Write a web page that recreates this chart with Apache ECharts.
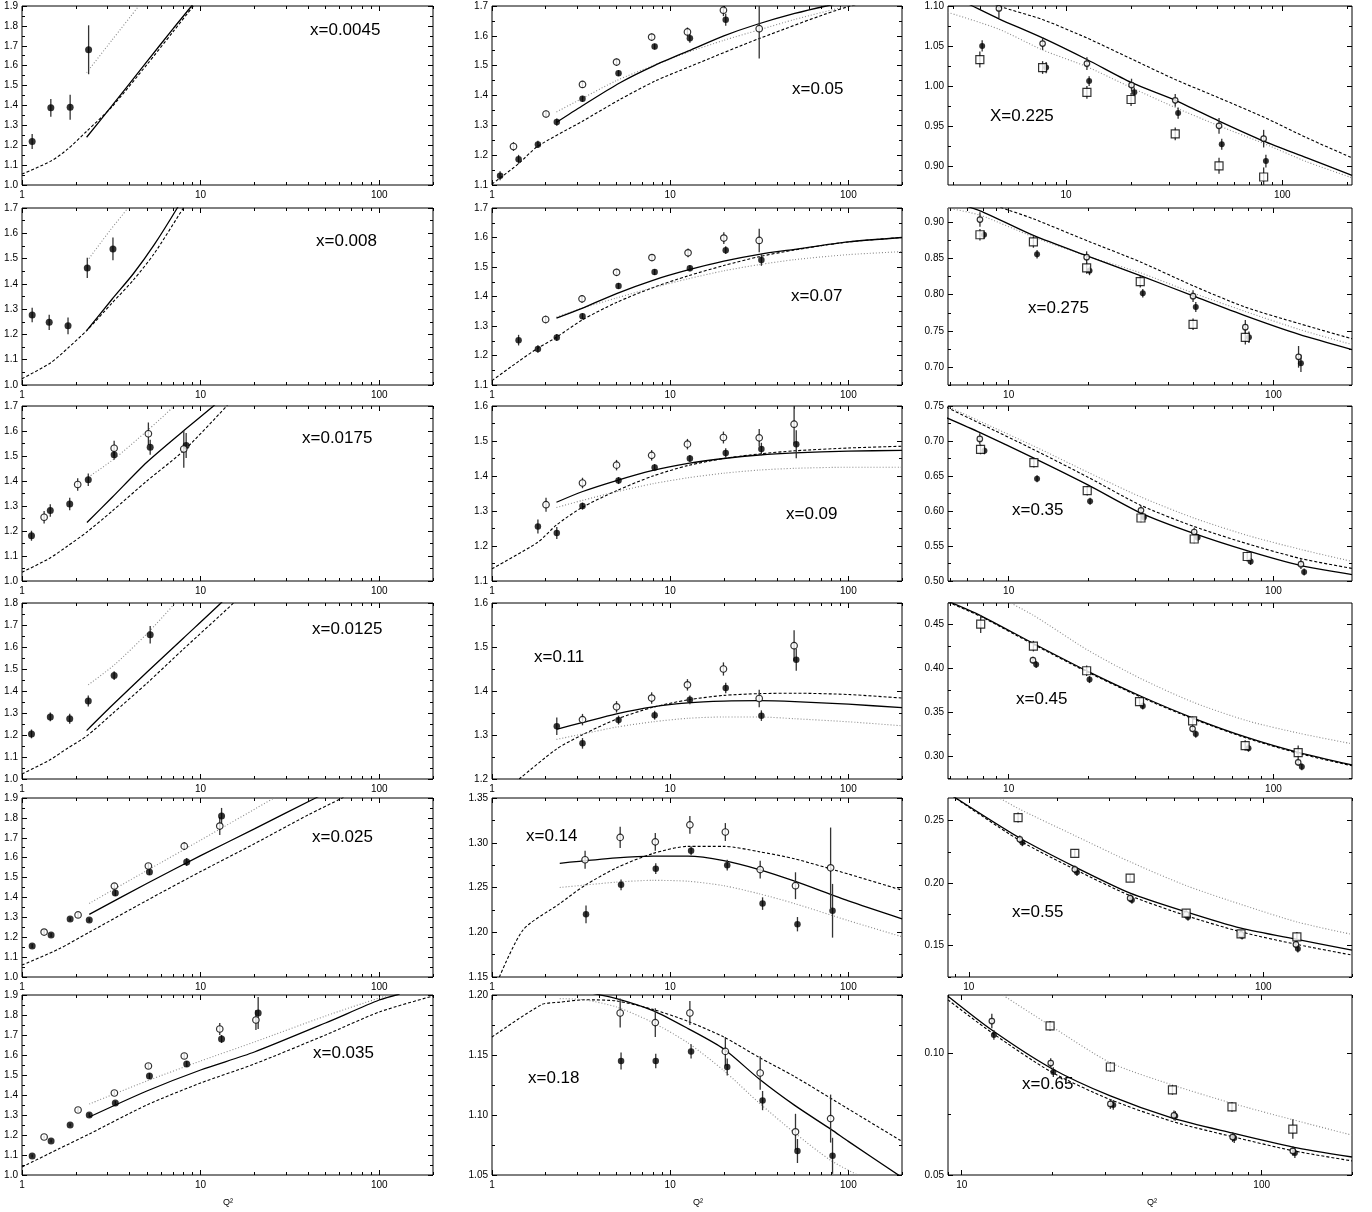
<!DOCTYPE html>
<html>
<head>
<meta charset="utf-8">
<script src="https://cdn.jsdelivr.net/npm/echarts@6/dist/echarts.min.js"></script>
<style>
html,body{margin:0;padding:0;background:#fff}
#chart{width:1372px;height:1212px}
</style>
</head>
<body>
<div id="chart"></div>
<script>
// Structure-function ratio vs Q^2 in 18 x-bins.
// Points: [Q2, value, error]; model curves: [Q2, value].

// ---- x = 0.0045 ----
const x0045Filled = [[1.14,1.219,0.038],[1.45,1.388,0.045],[1.86,1.391,0.063],[2.36,1.68,0.123]];
const x0045Solid  = [[2.3,1.24],[3.2,1.40],[5,1.62],[7,1.785],[8.9,1.9],[10,1.96]];
const x0045Dashed = [[1,1.055],[1.45,1.12],[1.8,1.18],[2.3,1.27],[3.2,1.395],[5,1.605],[7,1.77],[9.1,1.9],[10,1.95]];
const x0045Dotted = [[2.3,1.565],[3.2,1.73],[4.5,1.9],[5,1.96]];

// ---- x = 0.05 ----
const x05Filled = [[1.11,1.131,0.015],[1.41,1.186,0.015],[1.81,1.236,0.012],[2.31,1.311,0.012],[3.22,1.389,0.01],[5.13,1.475,0.01],[8.18,1.564,0.01],[12.9,1.592,0.015],[20.5,1.654,0.02]];
const x05Open   = [[1.32,1.229,0.015],[2.01,1.338,0.012],[3.22,1.437,0.012],[5.0,1.512,0.012],[7.87,1.596,0.012],[12.5,1.613,0.015],[19.9,1.686,0.02],[31.6,1.624,0.1]];
const x05Solid  = [[2.3,1.31],[3.2,1.365],[5.2,1.442],[8.2,1.501],[13.2,1.554],[20,1.60],[30.5,1.638],[50,1.675],[75,1.70],[100,1.715]];
const x05Dashed = [[1,1.103],[1.4,1.17],[1.8,1.229],[3.2,1.313],[5.2,1.386],[8.2,1.448],[13,1.498],[31.6,1.591],[100,1.698],[200,1.73]];
const x05Dotted = [[2.3,1.345],[3.2,1.39],[5,1.45],[8,1.50],[12.6,1.545],[20,1.585],[31.6,1.62],[50,1.655],[100,1.70],[150,1.72]];

// ---- x = 0.225 ----
const x225Filled = [[4.1,1.050,0.007],[8.1,1.023,0.007],[12.8,1.006,0.006],[20.7,0.992,0.006],[33,0.966,0.007],[52.5,0.927,0.007],[84,0.906,0.008]];
const x225Open   = [[4.9,1.097,0.012],[7.8,1.053,0.008],[12.5,1.028,0.008],[20.1,1.001,0.008],[32,0.982,0.008],[51,0.950,0.01],[82,0.934,0.011]];
const x225Square = [[4.0,1.033,0.01],[7.8,1.023,0.008],[12.5,0.992,0.008],[20,0.983,0.008],[32,0.940,0.008],[51,0.900,0.01],[82,0.886,0.012]];
const x225Solid  = [[2.85,1.115],[3.7,1.10],[4.9,1.084],[7.8,1.06],[12.5,1.033],[20.1,1.004],[32,0.982],[51,0.956],[82,0.931],[130,0.91],[210,0.888]];
const x225Dashed = [[2.85,1.125],[4.9,1.10],[7.8,1.083],[12.5,1.060],[20,1.034],[32,1.008],[51,0.985],[82,0.961],[130,0.935],[210,0.910]];
const x225Dotted = [[2.85,1.092],[4.9,1.071],[7.8,1.045],[12.5,1.024],[20,0.998],[32,0.973],[51,0.95],[82,0.928],[130,0.905],[210,0.885]];

// ---- x = 0.008 ----
const x008Filled = [[1.14,1.277,0.029],[1.42,1.248,0.03],[1.81,1.234,0.033],[2.32,1.463,0.04],[3.23,1.538,0.045]];
const x008Solid  = [[2.3,1.215],[3.2,1.34],[4.2,1.44],[5.5,1.555],[7.4,1.70],[8,1.745]];
const x008Dashed = [[1,1.025],[1.45,1.088],[1.8,1.145],[2.3,1.215],[3.2,1.325],[4.2,1.415],[5.5,1.52],[8,1.70],[9,1.76]];
const x008Dotted = [[2.32,1.491],[3.1,1.61],[3.92,1.70],[4.3,1.74]];

// ---- x = 0.07 ----
const x07Filled = [[1.41,1.252,0.018],[1.81,1.222,0.013],[2.31,1.261,0.012],[3.22,1.333,0.01],[5.13,1.436,0.01],[8.18,1.483,0.01],[12.9,1.496,0.01],[20.5,1.557,0.013],[32.5,1.524,0.02]];
const x07Open   = [[2.0,1.322,0.013],[3.2,1.392,0.013],[5.0,1.482,0.012],[7.9,1.532,0.012],[12.6,1.548,0.015],[20,1.598,0.02],[31.6,1.59,0.04]];
const x07Solid  = [[2.3,1.327],[3.2,1.36],[5,1.41],[8,1.455],[12.6,1.49],[20,1.52],[31.6,1.543],[50,1.56],[100,1.585],[200,1.60]];
const x07Dashed = [[1,1.115],[1.41,1.18],[1.81,1.225],[2.3,1.262],[3.2,1.32],[5,1.38],[8,1.43],[12.6,1.47],[20,1.505],[31.6,1.535],[50,1.558],[100,1.585],[200,1.60]];
const x07Dotted = [[2.3,1.33],[3.2,1.36],[5,1.395],[8,1.43],[12.6,1.46],[20,1.487],[31.6,1.508],[50,1.525],[100,1.542],[200,1.552]];

// ---- x = 0.275 ----
const x275Filled = [[8.07,0.883,0.006],[12.8,0.856,0.006],[20.2,0.833,0.006],[32.1,0.802,0.006],[50.9,0.783,0.007],[80.8,0.741,0.008],[127,0.705,0.012]];
const x275Open   = [[7.79,0.904,0.01],[19.7,0.852,0.008],[49.7,0.798,0.008],[78.3,0.755,0.01],[124.4,0.714,0.015]];
const x275Square = [[7.79,0.883,0.008],[12.4,0.873,0.008],[19.7,0.837,0.008],[31.4,0.818,0.008],[49.7,0.759,0.008],[78.3,0.741,0.01]];
const x275Solid  = [[5.9,0.93],[7.8,0.916],[12.4,0.882],[20,0.853],[31.6,0.826],[50,0.798],[78,0.771],[125,0.745],[198,0.724]];
const x275Dashed = [[5.9,0.945],[10,0.917],[12.4,0.905],[20,0.874],[31.6,0.845],[50,0.812],[78,0.783],[125,0.76],[198,0.739]];
const x275Dotted = [[5.9,0.92],[7.8,0.91],[12.4,0.88],[20,0.853],[31.6,0.83],[50,0.802],[78,0.777],[125,0.752],[198,0.731]];

// ---- x = 0.0175 ----
const x0175Filled = [[1.13,1.181,0.02],[1.44,1.282,0.025],[1.85,1.308,0.025],[2.35,1.405,0.025],[3.28,1.505,0.02],[5.22,1.535,0.03],[8.3,1.542,0.05]];
const x0175Open   = [[1.33,1.255,0.025],[2.05,1.386,0.025],[3.28,1.531,0.03],[5.1,1.589,0.045],[8.05,1.528,0.075]];
const x0175Solid  = [[2.31,1.234],[3.2,1.335],[5,1.475],[8,1.60],[11.8,1.70],[13,1.73]];
const x0175Dashed = [[1,1.035],[1.42,1.09],[1.8,1.14],[2.3,1.195],[3.2,1.28],[5,1.40],[8,1.52],[14,1.70],[15,1.73]];
const x0175Dotted = [[2.35,1.415],[3.3,1.49],[5,1.60],[7.1,1.70],[7.8,1.74]];

// ---- x = 0.09 ----
const x09Filled = [[1.81,1.256,0.02],[2.31,1.237,0.017],[3.22,1.314,0.01],[5.13,1.387,0.01],[8.18,1.424,0.01],[12.9,1.45,0.01],[20.5,1.466,0.013],[32.5,1.477,0.018],[51,1.491,0.04]];
const x09Open   = [[2.01,1.318,0.02],[3.22,1.38,0.015],[5.0,1.431,0.015],[7.87,1.459,0.015],[12.5,1.491,0.015],[19.9,1.51,0.017],[31.6,1.509,0.025],[49.6,1.548,0.055]];
const x09Solid  = [[2.3,1.325],[3.2,1.355],[5,1.387],[8,1.416],[12.6,1.436],[20,1.45],[31.6,1.46],[50,1.466],[100,1.471],[200,1.473]];
const x09Dashed = [[1,1.135],[1.8,1.21],[2.3,1.26],[3.2,1.31],[5,1.358],[8,1.40],[12.6,1.43],[20,1.45],[31.6,1.463],[50,1.472],[100,1.48],[200,1.485]];
const x09Dotted = [[2.3,1.31],[3.2,1.33],[5,1.355],[8,1.378],[12.6,1.395],[20,1.408],[31.6,1.417],[50,1.422],[100,1.425],[200,1.425]];

// ---- x = 0.35 ----
const x35Filled = [[8.1,0.686,0.005],[12.8,0.646,0.005],[20.3,0.614,0.005],[32.4,0.591,0.005],[51.7,0.562,0.005],[82,0.528,0.005],[130.6,0.513,0.005]];
const x35Open   = [[7.78,0.703,0.008],[31.6,0.601,0.006],[50.2,0.570,0.006],[127,0.524,0.007]];
const x35Square = [[7.83,0.688,0.007],[12.45,0.669,0.007],[19.8,0.629,0.007],[31.6,0.590,0.006],[50.2,0.560,0.006],[79.6,0.535,0.007]];
const x35Solid  = [[5.84,0.733],[7.8,0.712],[12.4,0.676],[20,0.637],[31.6,0.597],[50,0.568],[80,0.543],[127,0.522],[198,0.509]];
const x35Dashed = [[5.84,0.748],[7.8,0.725],[12.4,0.688],[20,0.648],[31.6,0.608],[50,0.578],[80,0.553],[127,0.532],[198,0.518]];
const x35Dotted = [[5.84,0.75],[7.8,0.728],[12.4,0.693],[20,0.655],[31.6,0.62],[50,0.59],[80,0.565],[127,0.545],[198,0.528]];

// ---- x = 0.0125 ----
const x0125Filled = [[1.13,1.205,0.02],[1.44,1.282,0.02],[1.85,1.274,0.023],[2.35,1.354,0.025],[3.28,1.47,0.02],[5.22,1.656,0.04]];
const x0125Solid  = [[2.3,1.22],[3.2,1.335],[5,1.485],[8,1.64],[13,1.80],[14,1.83]];
const x0125Dashed = [[1,1.023],[1.42,1.085],[1.8,1.14],[2.3,1.195],[3.2,1.296],[5,1.435],[8,1.59],[15.3,1.80],[17,1.84]];
const x0125Dotted = [[2.35,1.428],[3.3,1.52],[5,1.66],[7.2,1.80],[8,1.85]];

// ---- x = 0.11 ----
const x11Filled = [[2.31,1.32,0.02],[3.22,1.281,0.012],[5.13,1.334,0.01],[8.18,1.345,0.01],[12.9,1.38,0.01],[20.5,1.407,0.012],[32.5,1.344,0.012],[51,1.471,0.025]];
const x11Open   = [[3.22,1.335,0.013],[5.0,1.364,0.013],[7.87,1.384,0.013],[12.5,1.414,0.013],[19.9,1.45,0.015],[31.6,1.383,0.02],[49.6,1.503,0.035]];
const x11Solid  = [[2.3,1.313],[3.2,1.328],[5,1.348],[8,1.364],[12.6,1.373],[20,1.377],[31.6,1.378],[50,1.376],[100,1.37],[200,1.362]];
const x11Dashed = [[1,1.15],[1.42,1.20],[2.3,1.268],[3.2,1.30],[5,1.336],[8,1.363],[12.6,1.38],[20,1.39],[31.6,1.394],[50,1.395],[100,1.392],[200,1.384]];
const x11Dotted = [[2.3,1.29],[3.2,1.302],[5,1.318],[8,1.33],[12.6,1.338],[20,1.341],[31.6,1.341],[50,1.337],[100,1.33],[200,1.321]];

// ---- x = 0.45 ----
const x45Filled = [[12.7,0.404,0.004],[20.2,0.387,0.004],[32.1,0.357,0.004],[50.9,0.325,0.004],[80.5,0.309,0.004],[128,0.288,0.004]];
const x45Open   = [[12.35,0.409,0.004],[49.5,0.331,0.004],[124,0.293,0.004]];
const x45Square = [[7.84,0.45,0.01],[12.4,0.425,0.006],[19.7,0.397,0.006],[31.2,0.362,0.005],[49.5,0.34,0.005],[78.2,0.312,0.006],[124,0.304,0.008]];
const x45Solid  = [[5.9,0.476],[7.8,0.460],[12.4,0.428],[20,0.396],[31.6,0.368],[50,0.343],[80,0.321],[125,0.304],[198,0.29]];
const x45Dashed = [[5.9,0.475],[7.8,0.459],[12.4,0.427],[20,0.395],[31.6,0.367],[50,0.342],[80,0.32],[125,0.303],[198,0.289]];
const x45Dotted = [[9.3,0.48],[12.4,0.46],[20,0.42],[31.6,0.388],[50,0.361],[80,0.34],[125,0.326],[198,0.314]];

// ---- x = 0.025 ----
const x025Filled = [[1.14,1.156,0.01],[1.455,1.211,0.01],[1.86,1.291,0.01],[2.38,1.286,0.01],[3.33,1.422,0.015],[5.17,1.528,0.015],[8.36,1.578,0.02],[13.1,1.81,0.04]];
const x025Open   = [[1.33,1.226,0.01],[2.06,1.312,0.01],[3.29,1.457,0.015],[5.1,1.558,0.015],[8.1,1.658,0.02],[12.8,1.759,0.045]];
const x025Solid  = [[2.38,1.315],[5,1.47],[10,1.61],[20,1.745],[44,1.9],[50,1.925]];
const x025Dashed = [[1,1.06],[1.6,1.14],[2.38,1.225],[5,1.385],[10,1.53],[20,1.67],[40,1.815],[62,1.9],[70,1.925]];
const x025Dotted = [[2.38,1.37],[5,1.535],[10,1.688],[26.4,1.905],[30,1.93]];

// ---- x = 0.14 ----
const x14Filled = [[3.37,1.22,0.01],[5.3,1.253,0.006],[8.3,1.271,0.006],[13.1,1.291,0.005],[20.9,1.275,0.006],[33,1.232,0.007],[51.8,1.209,0.008],[81.5,1.224,0.03]];
const x14Open   = [[3.33,1.281,0.01],[5.24,1.306,0.012],[8.25,1.301,0.01],[12.9,1.32,0.01],[20.4,1.312,0.01],[32,1.27,0.01],[50.5,1.252,0.015],[79.5,1.272,0.045]];
const x14Solid  = [[2.4,1.277],[5,1.283],[8,1.285],[12.6,1.285],[20,1.28],[31.6,1.27],[50,1.257],[100,1.235],[200,1.215]];
const x14Dashed = [[1.1,1.15],[1.5,1.203],[2.4,1.232],[3.3,1.252],[5,1.272],[8,1.288],[12.6,1.296],[20,1.296],[31.6,1.29],[50,1.282],[100,1.265],[200,1.247]];
const x14Dotted = [[2.4,1.25],[5,1.256],[8,1.258],[12.6,1.257],[20,1.252],[31.6,1.243],[50,1.232],[100,1.213],[200,1.195]];

// ---- x = 0.55 ----
const x55Filled = [[15.2,0.2325,0.003],[23.3,0.2087,0.003],[35.8,0.1865,0.003],[55.5,0.173,0.003],[84.7,0.158,0.003],[131,0.1476,0.003]];
const x55Open   = [[14.9,0.235,0.003],[22.9,0.211,0.003],[35.3,0.188,0.003],[54.7,0.175,0.003],[84,0.159,0.003],[129,0.151,0.003]];
const x55Square = [[14.7,0.2524,0.004],[22.9,0.2238,0.003],[35.3,0.204,0.003],[54.7,0.176,0.003],[84,0.1595,0.003],[130,0.157,0.004]];
const x55Solid  = [[8.5,0.272],[14.9,0.236],[22.9,0.213],[35.3,0.192],[54.7,0.177],[84,0.164],[130,0.155],[200,0.1465]];
const x55Dashed = [[8.5,0.272],[14.9,0.234],[22.9,0.211],[35.3,0.19],[54.7,0.174],[84,0.161],[130,0.151],[200,0.1425]];
const x55Dotted = [[12.3,0.27],[14.9,0.259],[22.9,0.238],[35.3,0.217],[54.7,0.198],[84,0.183],[130,0.169],[200,0.159]];

// ---- x = 0.035 ----
const x035Filled = [[1.14,1.095,0.008],[1.455,1.17,0.008],[1.86,1.25,0.008],[2.38,1.30,0.01],[3.33,1.36,0.01],[5.17,1.495,0.015],[8.36,1.555,0.015],[13.1,1.68,0.02],[21,1.81,0.08]];
const x035Open   = [[1.33,1.19,0.008],[2.06,1.325,0.01],[3.29,1.41,0.01],[5.1,1.545,0.015],[8.1,1.595,0.015],[12.8,1.73,0.03],[20.4,1.775,0.05]];
const x035Solid  = [[2.38,1.29],[5,1.42],[10,1.525],[20,1.615],[50,1.76],[100,1.875],[130,1.905]];
const x035Dashed = [[1,1.04],[1.6,1.13],[2.38,1.205],[5,1.35],[10,1.46],[20,1.555],[50,1.70],[100,1.815],[200,1.895]];
const x035Dotted = [[2.38,1.355],[5,1.47],[10,1.57],[20,1.665],[50,1.795],[100,1.885],[120,1.905]];

// ---- x = 0.18 ----
const x18Filled = [[5.3,1.145,0.007],[8.3,1.145,0.006],[13.1,1.153,0.006],[20.9,1.14,0.007],[33,1.112,0.008],[51.8,1.07,0.01],[81.5,1.066,0.015]];
const x18Open   = [[5.24,1.185,0.012],[8.25,1.177,0.012],[12.9,1.185,0.01],[20.4,1.153,0.012],[32,1.135,0.014],[50.5,1.086,0.015],[79.5,1.097,0.02]];
const x18Solid  = [[3.5,1.202],[5,1.197],[8,1.187],[12.6,1.172],[20,1.155],[31.6,1.13],[50,1.108],[80,1.088],[100,1.078],[200,1.048]];
const x18Dashed = [[1,1.165],[1.9,1.192],[2.4,1.194],[3.3,1.196],[5,1.195],[8,1.188],[12.6,1.178],[20,1.165],[31.6,1.148],[50,1.132],[100,1.105],[200,1.078]];
const x18Dotted = [[2.4,1.197],[3.3,1.196],[5,1.19],[8,1.177],[12.6,1.16],[20,1.137],[31.6,1.11],[50,1.085],[80,1.062],[120,1.048]];

// ---- x = 0.65 ----
const x65Filled = [[12.8,0.1076,0.002],[20.2,0.0923,0.002],[32,0.0788,0.002],[51.5,0.0743,0.002],[81,0.0652,0.002],[129,0.059,0.002]];
const x65Open   = [[12.6,0.1133,0.003],[19.8,0.096,0.002],[31.3,0.0792,0.002],[51,0.0745,0.002],[80,0.0656,0.002],[127,0.0599,0.002]];
const x65Square = [[19.7,0.1113,0.002],[31.3,0.0944,0.002],[50.4,0.085,0.002],[79.6,0.078,0.002],[127,0.0689,0.004]];
const x65Solid  = [[9,0.1235],[12.6,0.1096],[19.8,0.094],[31.3,0.0825],[50.4,0.0734],[79.6,0.0673],[127,0.0615],[200,0.0574]];
const x65Dashed = [[9,0.122],[12.6,0.1085],[19.8,0.0925],[31.3,0.081],[50.4,0.072],[79.6,0.0658],[127,0.060],[200,0.0558]];
const x65Dotted = [[13.5,0.1245],[19.8,0.1113],[31.3,0.0962],[50.4,0.087],[79.6,0.0795],[127,0.0727],[200,0.0664]];

// Panel list, row-major (6 rows x 3 columns)
const panels = [
  {text:'x=0.0045', q:[1,200],   y:[1.0,1.9],    step:0.1,  dec:1, filled:x0045Filled, solid:x0045Solid, dashed:x0045Dashed, dotted:x0045Dotted},
  {text:'x=0.05',   q:[1,200],   y:[1.1,1.7],    step:0.1,  dec:1, filled:x05Filled, open:x05Open, solid:x05Solid, dashed:x05Dashed, dotted:x05Dotted},
  {text:'X=0.225',  q:[2.85,210],y:[0.876,1.10], step:0.05, dec:2, filled:x225Filled, open:x225Open, square:x225Square, solid:x225Solid, dashed:x225Dashed, dotted:x225Dotted},
  {text:'x=0.008',  q:[1,200],   y:[1.0,1.7],    step:0.1,  dec:1, filled:x008Filled, solid:x008Solid, dashed:x008Dashed, dotted:x008Dotted},
  {text:'x=0.07',   q:[1,200],   y:[1.1,1.7],    step:0.1,  dec:1, filled:x07Filled, open:x07Open, solid:x07Solid, dashed:x07Dashed, dotted:x07Dotted},
  {text:'x=0.275',  q:[5.9,198], y:[0.675,0.92], step:0.05, dec:2, filled:x275Filled, open:x275Open, square:x275Square, solid:x275Solid, dashed:x275Dashed, dotted:x275Dotted},
  {text:'x=0.0175', q:[1,200],   y:[1.0,1.7],    step:0.1,  dec:1, filled:x0175Filled, open:x0175Open, solid:x0175Solid, dashed:x0175Dashed, dotted:x0175Dotted},
  {text:'x=0.09',   q:[1,200],   y:[1.1,1.6],    step:0.1,  dec:1, filled:x09Filled, open:x09Open, solid:x09Solid, dashed:x09Dashed, dotted:x09Dotted},
  {text:'x=0.35',   q:[5.9,198], y:[0.50,0.75],  step:0.05, dec:2, filled:x35Filled, open:x35Open, square:x35Square, solid:x35Solid, dashed:x35Dashed, dotted:x35Dotted},
  {text:'x=0.0125', q:[1,200],   y:[1.0,1.8],    step:0.1,  dec:1, filled:x0125Filled, solid:x0125Solid, dashed:x0125Dashed, dotted:x0125Dotted},
  {text:'x=0.11',   q:[1,200],   y:[1.2,1.6],    step:0.1,  dec:1, filled:x11Filled, open:x11Open, solid:x11Solid, dashed:x11Dashed, dotted:x11Dotted},
  {text:'x=0.45',   q:[5.9,198], y:[0.274,0.474],step:0.05, dec:2, filled:x45Filled, open:x45Open, square:x45Square, solid:x45Solid, dashed:x45Dashed, dotted:x45Dotted},
  {text:'x=0.025',  q:[1,200],   y:[1.0,1.9],    step:0.1,  dec:1, filled:x025Filled, open:x025Open, solid:x025Solid, dashed:x025Dashed, dotted:x025Dotted},
  {text:'x=0.14',   q:[1,200],   y:[1.15,1.35],  step:0.05, dec:2, filled:x14Filled, open:x14Open, solid:x14Solid, dashed:x14Dashed, dotted:x14Dotted},
  {text:'x=0.55',   q:[8.5,200], y:[0.125,0.268],step:0.05, dec:2, filled:x55Filled, open:x55Open, square:x55Square, solid:x55Solid, dashed:x55Dashed, dotted:x55Dotted},
  {text:'x=0.035',  q:[1,200],   y:[1.0,1.9],    step:0.1,  dec:1, filled:x035Filled, open:x035Open, solid:x035Solid, dashed:x035Dashed, dotted:x035Dotted},
  {text:'x=0.18',   q:[1,200],   y:[1.05,1.20],  step:0.05, dec:2, filled:x18Filled, open:x18Open, solid:x18Solid, dashed:x18Dashed, dotted:x18Dotted},
  {text:'x=0.65',   q:[9,200],   y:[0.05,0.124], step:0.05, dec:2, filled:x65Filled, open:x65Open, square:x65Square, solid:x65Solid, dashed:x65Dashed, dotted:x65Dotted}
];

// Layout (pixels)
const colLeft = [22, 492, 948];
const colWidth = [411, 410, 404];
const rowTop = [6, 208, 406, 603, 798, 995];
const rowHeight = [179, 177, 175, 176, 179, 180];
const labelPos = [
  [310,32],[792,91],[990,118],
  [316,243],[791,298],[1028,310],
  [302,440],[786,516],[1012,512],
  [312,631],[534,659],[1016,701],
  [312,839],[526,838],[1012,914],
  [313,1055],[528,1080],[1022,1086]
];
const FONT = 'Liberation Sans, Arial, sans-serif';

function linTicks(lo, hi, step) {
  const out = [];
  for (let k = Math.ceil(lo / step - 1e-6); k * step <= hi + 1e-9; k++) out.push(+(k * step).toFixed(6));
  return out;
}
function logTicks(lo, hi) {
  const major = [], minor = [];
  for (let e = -1; e <= 3; e++) {
    const p = Math.pow(10, e);
    for (let k = 1; k < 10; k++) {
      const v = +(k * p).toPrecision(6);
      if (v < lo - 1e-9 || v > hi + 1e-9) continue;
      (k === 1 ? major : minor).push(v);
    }
  }
  return {major, minor};
}

const grids = [], xAxes = [], yAxes = [], series = [], texts = [];

panels.forEach((p, i) => {
  const row = Math.floor(i / 3), col = i % 3;
  grids.push({
    left: colLeft[col], top: rowTop[row], width: colWidth[col], height: rowHeight[row],
    show: true, borderColor: '#000', borderWidth: 1, backgroundColor: 'transparent', containLabel: false
  });
  const lt = logTicks(p.q[0], p.q[1]);
  const yMaj = linTicks(p.y[0], p.y[1], p.step);
  const yMin = linTicks(p.y[0], p.y[1], p.step / 2).filter(v => !yMaj.some(m => Math.abs(m - v) < 1e-9));

  const xBase = (position, ticks, len, labels) => ({
    type: 'log', logBase: 10, gridIndex: i, min: p.q[0], max: p.q[1], position,
    axisLine: {show: false}, splitLine: {show: false}, axisPointer: {show: false},
    axisTick: {show: true, inside: true, length: len, customValues: ticks, lineStyle: {color: '#000', width: 1}},
    axisLabel: labels ? {show: true, customValues: lt.major, formatter: v => String(Math.round(v)),
      fontSize: 10, color: '#000', margin: 5, fontFamily: FONT} : {show: false}
  });
  xAxes.push(xBase('bottom', lt.major, 5, true));
  xAxes.push(xBase('bottom', lt.minor, 3, false));
  xAxes.push(xBase('top', lt.major, 5, false));
  xAxes.push(xBase('top', lt.minor, 3, false));

  const yBase = (position, ticks, len, labels) => ({
    type: 'value', gridIndex: i, min: p.y[0], max: p.y[1], position,
    axisLine: {show: false}, splitLine: {show: false}, axisPointer: {show: false},
    axisTick: {show: true, inside: true, length: len, customValues: ticks, lineStyle: {color: '#000', width: 1}},
    axisLabel: labels ? {show: true, customValues: yMaj, formatter: v => (+v).toFixed(p.dec),
      fontSize: 10, color: '#000', margin: 4, fontFamily: FONT} : {show: false}
  });
  yAxes.push(yBase('left', yMaj, 5, true));
  yAxes.push(yBase('left', yMin, 3, false));
  yAxes.push(yBase('right', yMaj, 5, false));
  yAxes.push(yBase('right', yMin, 3, false));

  const ax = {xAxisIndex: 4 * i, yAxisIndex: 4 * i};
  const curve = (data, style, z) => series.push(Object.assign({
    type: 'line', data, symbol: 'none', showSymbol: false, smooth: 0.25, clip: true,
    lineStyle: style, z, silent: true, animation: false
  }, ax));
  curve(p.dashed, {color: '#000', width: 1.1, type: [3, 2]}, 2);
  curve(p.dotted, {color: '#8a8a8a', width: 1.1, type: [1, 2]}, 2);
  curve(p.solid, {color: '#000', width: 1.3, type: 'solid'}, 3);

  const sizes = [[7, 6.5], [6.5, 6.5], [6, 5.5]][col];
  const points = (data, kind) => {
    if (!data || !data.length) return;
    series.push(Object.assign({
      type: 'custom', coordinateSystem: 'cartesian2d', data, clip: true, silent: true, z: 4,
      encode: {x: 0, y: 1},
      renderItem: (params, api) => {
        const x = api.value(0), y = api.value(1), e = api.value(2);
        const a = api.coord([x, y - e]), b = api.coord([x, y + e]);
        return {type: 'line', shape: {x1: a[0], y1: a[1], x2: b[0], y2: b[1]},
                style: {stroke: '#333', lineWidth: 1.3}};
      }
    }, ax));
    const base = {type: 'scatter', data: data.map(d => [d[0], d[1]]), silent: true, clip: true};
    if (kind === 'filled') Object.assign(base, {symbol: 'circle', symbolSize: sizes[0], itemStyle: {color: '#000'}, z: 5});
    if (kind === 'open') Object.assign(base, {symbol: 'circle', symbolSize: sizes[1], itemStyle: {color: '#fff', borderColor: '#000', borderWidth: 1.2}, z: 6});
    if (kind === 'square') Object.assign(base, {symbol: 'rect', symbolSize: 8, itemStyle: {color: '#fff', borderColor: '#000', borderWidth: 1.2}, z: 7});
    series.push(Object.assign(base, ax));
  };
  points(p.filled, 'filled');
  points(p.open, 'open');
  points(p.square, 'square');

  texts.push({type: 'text', left: labelPos[i][0], top: labelPos[i][1] - 10, z: 10,
    style: {text: p.text, font: '17px ' + FONT, fill: '#000'}});
});

// Q^2 axis captions under each column
[[228, 1198], [698, 1198], [1152, 1198]].forEach(([x, y]) => {
  texts.push({type: 'text', left: x - 5, top: y, style: {text: 'Q²', font: '9px ' + FONT, fill: '#000'}});
});

const chart = echarts.init(document.getElementById('chart'), null, {renderer: 'canvas'});
chart.setOption({
  animation: false,
  backgroundColor: '#fff',
  grid: grids,
  xAxis: xAxes,
  yAxis: yAxes,
  series,
  graphic: {elements: texts}
});
</script>
</body>
</html>
